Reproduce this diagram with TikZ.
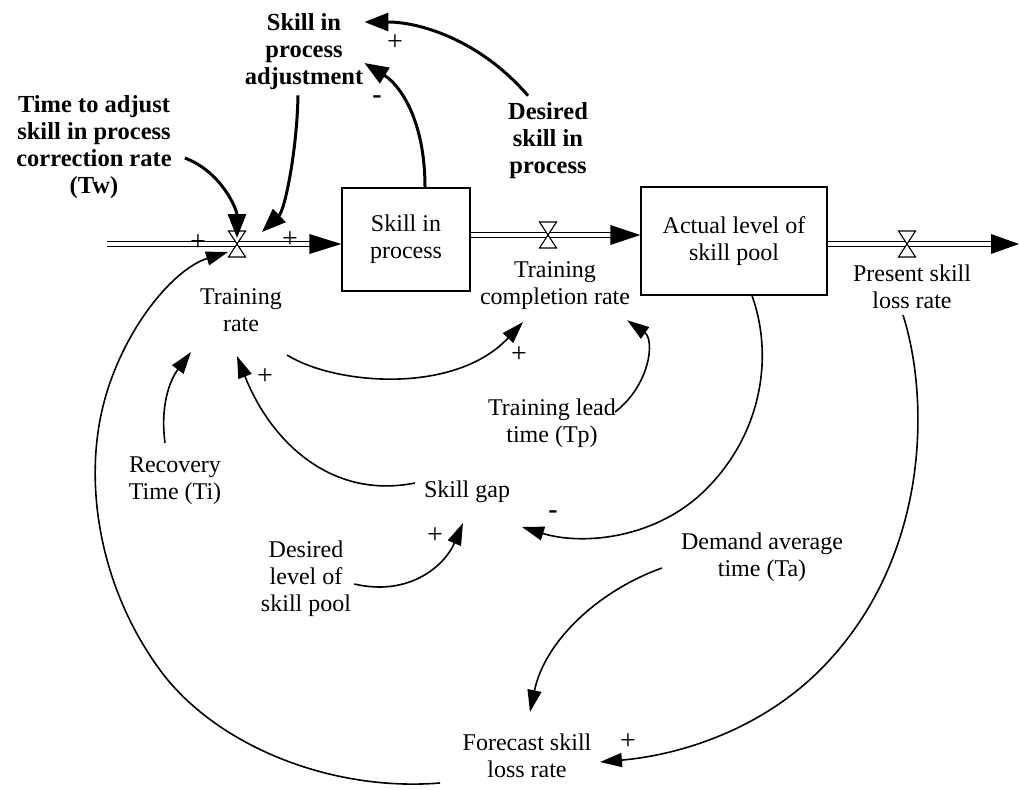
\documentclass[tikz,border=0pt]{standalone}
\usepackage{fontspec}
\setmainfont{Liberation Serif}
\usetikzlibrary{arrows.meta}
\begin{document}
\begin{tikzpicture}[x=1pt,y=-1pt,
  lbl/.style={align=center, font=\fontsize{24}{27}\selectfont, inner sep=1pt},
  blbl/.style={align=center, font=\fontsize{24.5}{27}\selectfont\bfseries, inner sep=1pt},
  pol/.style={font=\fontsize{28}{28}\selectfont, inner sep=0pt},
  neg/.style={font=\fontsize{28}{28}\selectfont\bfseries, inner sep=0pt},
  stock/.style={draw, line width=1.3pt, align=center, font=\fontsize{24}{27}\selectfont, inner sep=0pt},
  link/.style={line width=1.6pt, -{Triangle[length=22pt,width=14pt]}},
  tlink/.style={line width=3pt, -{Triangle[length=24pt,width=18pt]}},
  flow/.style={double, double distance=4pt, line width=1.3pt},
  valve/.pic={\draw[fill=white,line width=1.1pt] (-8.5,-13)--(8.5,-13)--(-8.5,13)--(8.5,13)--cycle;}
]
\useasboundingbox (0,0) rectangle (1019,789);

% stocks
\node[stock, minimum width=128pt, minimum height=103pt] (sip) at (406,239.5) {Skill in\\process};
\node[stock, minimum width=186pt, minimum height=108pt] (act) at (734,241) {Actual level of\\skill pool};

% flow end points and valves
\coordinate (src) at (107,244);
\coordinate (snk) at (1019,244);
\coordinate (v1) at (237,244);
\coordinate (v2) at (548,235);
\coordinate (v3) at (907,244);

% flows
\draw[flow] (src) -- ([xshift=-30]sip.west |- src);
\fill ([xshift=-32,yshift=-10]sip.west |- src) -- (sip.west |- src) -- ([xshift=-32,yshift=10]sip.west |- src) -- cycle;
\draw[flow] (sip.east |- v2) -- ([xshift=-28]act.west |- v2);
\fill ([xshift=-30,yshift=-10]act.west |- v2) -- (act.west |- v2) -- ([xshift=-30,yshift=10]act.west |- v2) -- cycle;
\draw[flow] (act.east |- v3) -- ([xshift=-26]snk);
\fill ([xshift=-28,yshift=-10]snk) -- (snk) -- ([xshift=-28,yshift=10]snk) -- cycle;
\pic at (v1) {valve};
\pic at (v2) {valve};
\pic at (v3) {valve};
\node[pol] (p1) at (198,243) {+};
\node[pol] (p2) at (290,240) {+};

% labels
\node[blbl] (adj) at (304,52) {Skill in\\process\\adjustment};
\node[blbl] (tw) at (94,147) {Time to adjust\\skill in process\\correction rate\\(Tw)};
\node[blbl] (dsip) at (548,141) {Desired\\skill in\\process};
\node[lbl] (tr) at (241,310) {Training\\rate};
\node[lbl] (tcr) at (555,286) {Training\\completion rate};
\node[lbl] (pslr) at (912,287) {Present skill\\loss rate};
\node[lbl] (tlt) at (552,423) {Training lead\\time (Tp)};
\node[lbl] (rt) at (175,481) {Recovery\\Time (Ti)};
\node[lbl] (gap) at (467,492) {Skill gap};
\node[lbl] (dlsp) at (306,579) {Desired\\level of\\skill pool};
\node[lbl] (dat) at (762,557) {Demand average\\time (Ta)};
\node[lbl] (fslr) at (527,756) {Forecast skill\\loss rate};

% bold links
\draw[tlink] ([shift={(12,11)}]tw.east) .. controls (222,172) and (237,210) .. ([yshift=6]v1);
\draw[tlink] ([shift={(-6,4)}]adj.south) .. controls (297,150) and (285,210) .. ([xshift=25,yshift=12]v1);
\draw[tlink] ([xshift=19]sip.north) .. controls (425,120) and (400,85) .. ([shift={(0,11)}]adj.east);
\draw[tlink] ([shift={(-20,-6)}]dsip.north) .. controls (480,40) and (420,22) .. ([shift={(0,-30)}]adj.east);

% thin links
\draw[link] ([shift={(46,45)}]tr.center) .. controls (335,385) and (455,395) .. ([shift={(-32,36)}]tcr.center);
\draw[link] ([shift={(-2,-11)}]tlt.east) .. controls (650,385) and (655,340) .. ([shift={(-4,9)}]tcr.south east);
\draw[link] ([xshift=18]act.south) .. controls (775,360) and (760,440) .. (700,495) .. controls (650,540) and (580,545) .. ([shift={(55,35)}]gap.center);
\draw[link] ([xshift=-52,yshift=9]gap.center) .. controls (330,500) and (270,440) .. ([shift={(-4,46)}]tr.center);
\draw[link] ([shift={(-10,-38)}]rt.center) .. controls (160,405) and (170,380) .. ([shift={(-50,42)}]tr.center);
\draw[link] ([shift={(2,5)}]dlsp.east) .. controls (410,597) and (445,565) .. ([shift={(-4,31)}]gap.center);
\draw[link] ([shift={(-87,27)}]fslr.center) .. controls (330,792) and (215,745) .. (160,670) .. controls (105,595) and (85,500) .. (100,420) .. controls (115,340) and (170,270) .. ([shift={(-9,8)}]v1);
\draw[link] ([shift={(-9,28)}]pslr.center) .. controls (930,400) and (930,560) .. (820,670) .. controls (760,730) and (680,755) .. ([shift={(73,6)}]fslr.center);
\draw[link] ([shift={(-100,11)}]dat.center) .. controls (600,590) and (545,640) .. ([shift={(3,-44)}]fslr.center);

% polarities
\node[pol] at (395,43) {+};
\node[neg] at (377,100) {-};
\node[pol] at (519,355) {+};
\node[pol] at (265,377) {+};
\node[pol] at (435,536) {+};
\node[neg] at (553,515) {-};
\node[pol] at (628,742) {+};
\end{tikzpicture}
\end{document}
